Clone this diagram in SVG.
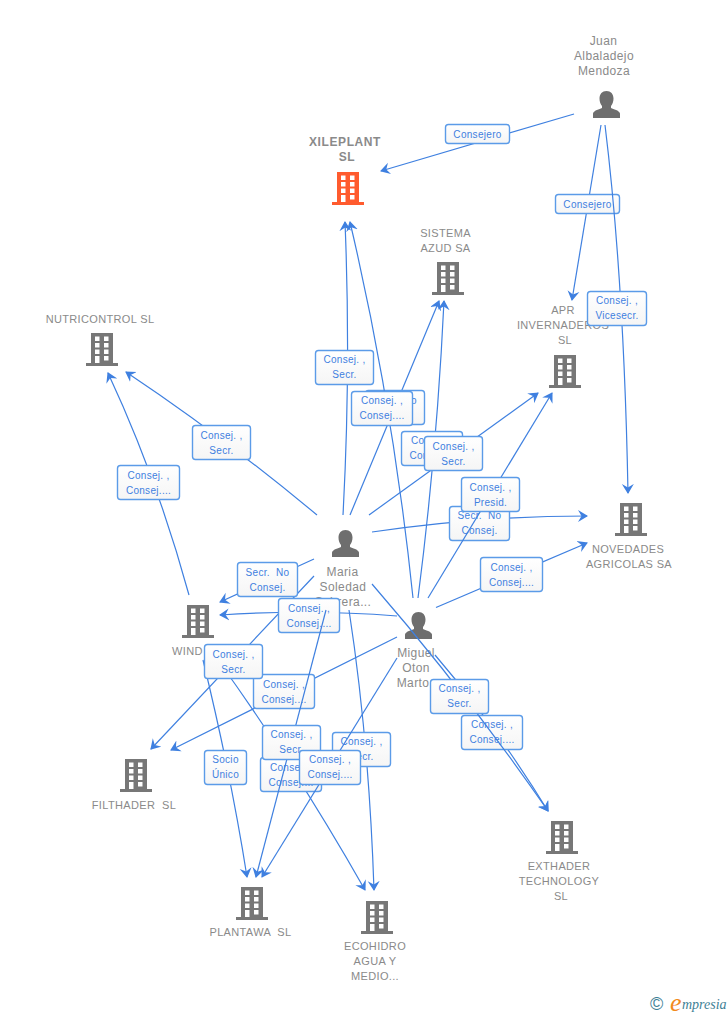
<svg xmlns="http://www.w3.org/2000/svg" xmlns:xlink="http://www.w3.org/1999/xlink" width="728" height="1015" viewBox="0 0 728 1015">
<style>
text{font-family:"Liberation Sans",Arial,sans-serif}
.n{font-size:11px;fill:#8a8a8a;text-anchor:middle;letter-spacing:.35px}
.x{font-size:12px;fill:#8a8a8a;text-anchor:middle;font-weight:bold;letter-spacing:.6px}
.p{font-size:12px;fill:#8a8a8a;text-anchor:middle;letter-spacing:.4px}
.e{stroke:#3f80e0;stroke-width:1.2;fill:none;marker-end:url(#a)}
.b{fill:url(#g);stroke:#5b9be8;stroke-width:1.4}
.l{font-size:10px;fill:#3f80e0;text-anchor:middle;letter-spacing:.3px}
</style>
<defs>
<linearGradient id="g" x1="0" y1="0" x2="0" y2="1"><stop offset="0" stop-color="#fff"/><stop offset="1" stop-color="#f5f5f5"/></linearGradient>
<marker id="a" markerUnits="userSpaceOnUse" markerWidth="12" markerHeight="14" refX="9" refY="6.500" orient="auto"><path d="M10,6.500 L0,0.500 L3.500,6.500 L0,12.500 Z" fill="#3f80e0"/></marker>
<path id="bld" fill-rule="evenodd" d="M0,0H22V30H27V33H-5V30H0ZM4,3.500V8H8.500V3.500ZM13,3.500V8H17.500V3.500ZM4,10V14.500H8.500V10ZM13,10V14.500H17.500V10ZM4,16.500V21H8.500V16.500ZM13,16.500V21H17.500V16.500ZM4,23V30H8.500V23ZM13,23V27.500H17.500V23Z"/>
<path id="psn" d="M13.500,0C17.800,0 20.500,3 20.500,7.500C20.500,10.500 19.500,13 18,15V17C20.500,18.500 26,19 27,22.500V27H0V22.500C1,19 6.500,18.500 9,17V15C7.500,13 6.500,10.500 6.500,7.500C6.500,3 9.200,0 13.500,0Z" fill="#6e6e6e"/>
</defs>
<g id="juan"><text class="p" x="603.500" y="45">Juan</text><text class="p" x="604" y="60">Albaladejo</text><text class="p" x="604" y="75">Mendoza</text><use xlink:href="#psn" x="593" y="91"/></g>
<g id="xileplant"><text class="x" x="345" y="146">XILEPLANT</text><text class="x" x="347" y="161">SL</text><use xlink:href="#bld" x="337" y="172" fill="#ff5b2e"/></g>
<g id="sistema"><text class="n" x="445.500" y="237">SISTEMA</text><text class="n" x="445.500" y="252">AZUD SA</text><use xlink:href="#bld" x="437" y="262" fill="#777"/></g>
<g id="apr"><text class="n" x="563" y="314">APR</text><text class="n" x="563" y="329">INVERNADEROS</text><text class="n" x="565" y="344">SL</text><use xlink:href="#bld" x="554" y="355" fill="#777"/></g>
<g id="nutricontrol"><text class="n" x="100" y="323">NUTRICONTROL SL</text><use xlink:href="#bld" x="91" y="333" fill="#777"/></g>
<g id="novedades"><text class="n" x="628" y="553">NOVEDADES</text><text class="n" x="629" y="568">AGRICOLAS SA</text><use xlink:href="#bld" x="620" y="503" fill="#777"/></g>
<g id="maria"><use xlink:href="#psn" x="332" y="530"/><text class="p" x="342.500" y="576">Maria</text><text class="p" x="343" y="591">Soledad</text><text class="p" x="343" y="606">Sabrera...</text></g>
<g id="miguel"><use xlink:href="#psn" x="405" y="612"/><text class="p" x="416" y="657">Miguel</text><text class="p" x="416" y="672">Oton</text><text class="p" x="413" y="687">Marto</text></g>
<g id="wind"><use xlink:href="#bld" x="187" y="605" fill="#777"/><text class="n" x="172" y="655" style="text-anchor:start">WIND</text></g>
<g id="filthader"><use xlink:href="#bld" x="125" y="759" fill="#777"/><text class="n" x="134" y="809" xml:space="preserve">FILTHADER  SL</text></g>
<g id="plantawa"><use xlink:href="#bld" x="241" y="887" fill="#777"/><text class="n" x="250.500" y="936" xml:space="preserve">PLANTAWA  SL</text></g>
<g id="ecohidro"><use xlink:href="#bld" x="366" y="901" fill="#777"/><text class="n" x="375" y="950">ECOHIDRO</text><text class="n" x="375" y="965">AGUA Y</text><text class="n" x="375" y="980">MEDIO...</text></g>
<g id="exthader"><use xlink:href="#bld" x="551" y="821" fill="#777"/><text class="n" x="559" y="870">EXTHADER</text><text class="n" x="559" y="885">TECHNOLOGY</text><text class="n" x="561" y="900">SL</text></g>
<g id="connectors">
<path class="e" d="M574,114L381,171"/><g><rect class="b" x="445.500" y="124.500" width="64" height="19" rx="3"/><text class="l" x="477.500" y="138">Consejero</text></g>
<path class="e" d="M601,125L572,300"/><g><rect class="b" x="555.500" y="194.500" width="64" height="19" rx="3"/><text class="l" x="587.500" y="208">Consejero</text></g>
<path class="e" d="M605,125Q624,280 628,493"/><g><rect class="b" x="587.500" y="291.500" width="59" height="34" rx="3"/><text class="l" x="617" y="304">Consej. ,</text><text class="l" x="617" y="319">Vicesecr.</text></g>
<path class="e" d="M350,515L439,301"/><g><rect class="b" x="365.500" y="390.500" width="59" height="34" rx="3"/><text class="l" x="395" y="404" xml:space="preserve">Secr.  No</text><text class="l" x="395" y="419">Consej.</text></g>
<path class="e" d="M418,598Q437,450 444,301"/><g><rect class="b" x="401.500" y="431.500" width="61" height="34" rx="3"/><text class="l" x="432" y="444">Consej. ,</text><text class="l" x="432" y="459">Consej....</text></g>
<path class="e" d="M343,515Q351,368 345,222"/><g><rect class="b" x="315.500" y="350.500" width="58" height="34" rx="3"/><text class="l" x="344.500" y="363">Consej. ,</text><text class="l" x="344.500" y="378">Secr.</text></g>
<path class="e" d="M413,598Q393,405 350,222"/><g><rect class="b" x="351.500" y="391.500" width="61" height="34" rx="3"/><text class="l" x="382" y="404">Consej. ,</text><text class="l" x="382" y="419">Consej....</text></g>
<path class="e" d="M369,515L538,393"/><g><rect class="b" x="424.500" y="436.500" width="58" height="34" rx="3"/><text class="l" x="453.500" y="450">Consej. ,</text><text class="l" x="453.500" y="465">Secr.</text></g>
<path class="e" d="M372,532Q480,516 587,516"/><g><rect class="b" x="449.500" y="506.500" width="60" height="34" rx="3"/><text class="l" x="479.500" y="519" xml:space="preserve">Secr.  No</text><text class="l" x="479.500" y="534">Consej.</text></g>
<path class="e" d="M428,598L552,393"/><g><rect class="b" x="461.500" y="477.500" width="58" height="34" rx="3"/><text class="l" x="490.500" y="491">Consej. ,</text><text class="l" x="490.500" y="506">Presid.</text></g>
<path class="e" d="M436,607.500L587,543"/><g><rect class="b" x="480.500" y="557.500" width="62" height="34" rx="3"/><text class="l" x="511.500" y="571">Consej. ,</text><text class="l" x="511.500" y="586">Consej....</text></g>
<path class="e" d="M317,515Q222,436 126,372"/><g><rect class="b" x="192.500" y="425.500" width="58" height="34" rx="3"/><text class="l" x="221.500" y="439">Consej. ,</text><text class="l" x="221.500" y="454">Secr.</text></g>
<path class="e" d="M189,595Q157,478 108,373"/><g><rect class="b" x="117.500" y="465.500" width="62" height="34" rx="3"/><text class="l" x="148.500" y="479">Consej. ,</text><text class="l" x="148.500" y="494">Consej....</text></g>
<path class="e" d="M203,660Q231,775 247,877"/><g><rect class="b" x="204.500" y="750.500" width="42" height="34" rx="3"/><text class="l" x="225.500" y="763">Socio</text><text class="l" x="225.500" y="778">Único</text></g>
<path class="e" d="M218,660Q297,770 365,890"/><g><rect class="b" x="260.500" y="757.500" width="61" height="34" rx="3"/><text class="l" x="291" y="771">Consej. ,</text><text class="l" x="291" y="786">Consej....</text></g>
<path class="e" d="M397,637L171,750"/><g><rect class="b" x="253.500" y="674.500" width="61" height="34" rx="3"/><text class="l" x="284" y="688">Consej. ,</text><text class="l" x="284" y="703">Consej....</text></g>
<path class="e" d="M314,576L151,749"/><g><rect class="b" x="204.500" y="644.500" width="58" height="34" rx="3"/><text class="l" x="233.500" y="658">Consej. ,</text><text class="l" x="233.500" y="673">Secr.</text></g>
<path class="e" d="M397,616Q310,609 220,615"/><g><rect class="b" x="278.500" y="598.500" width="61" height="34" rx="3"/><text class="l" x="309" y="612">Consej. ,</text><text class="l" x="309" y="627">Consej....</text></g>
<path class="e" d="M314,559L220,602"/><g><rect class="b" x="237.500" y="562.500" width="60" height="34" rx="3"/><text class="l" x="267.500" y="576" xml:space="preserve">Secr.  No</text><text class="l" x="267.500" y="591">Consej.</text></g>
<path class="e" d="M349,610Q369,740 374,890"/><g><rect class="b" x="332.500" y="732.500" width="58" height="34" rx="3"/><text class="l" x="361.500" y="745">Consej. ,</text><text class="l" x="361.500" y="760">Secr.</text></g>
<path class="e" d="M326,610L256,877"/><g><rect class="b" x="262.500" y="725.500" width="58" height="34" rx="3"/><text class="l" x="291.500" y="738">Consej. ,</text><text class="l" x="291.500" y="753">Secr.</text></g>
<path class="e" d="M397,658L262,877"/><g><rect class="b" x="299.500" y="750.500" width="61" height="34" rx="3"/><text class="l" x="330" y="763">Consej. ,</text><text class="l" x="330" y="778">Consej....</text></g>
<path class="e" d="M435,655Q495,725 548,811"/><g><rect class="b" x="461.500" y="715.500" width="61" height="34" rx="3"/><text class="l" x="492" y="728">Consej. ,</text><text class="l" x="492" y="743">Consej....</text></g>
<path class="e" d="M372,584Q464,690 548,811"/><g><rect class="b" x="430.500" y="679.500" width="58" height="34" rx="3"/><text class="l" x="459.500" y="692">Consej. ,</text><text class="l" x="459.500" y="707">Secr.</text></g>
</g>
<g id="logo"><text x="650" y="1010" font-size="18" fill="#3f7f96">©</text><text x="670" y="1011" font-size="26" font-style="italic" fill="#f28a1c" style="font-family:'Liberation Serif',serif">e</text><text x="682" y="1009" font-size="14" font-style="italic" fill="#3f7f96" style="font-family:'Liberation Serif',serif">mpresia</text></g>
</svg>
